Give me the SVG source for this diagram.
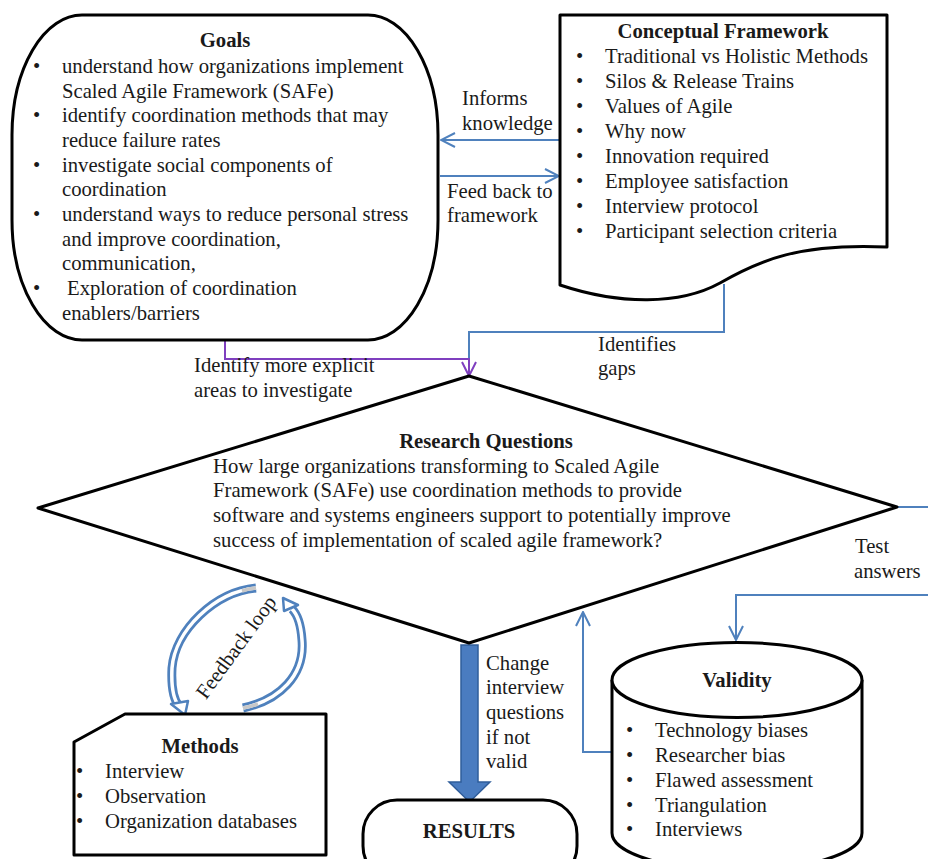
<svg xmlns="http://www.w3.org/2000/svg" width="928" height="859" viewBox="0 0 928 859">
<style>
  text { font-family: "Liberation Serif", "Times New Roman", serif; font-size: 20.7px; fill: #1a1a1a; }
  .b { font-weight: bold; }
  .m { text-anchor: middle; }
  .node { fill: #ffffff; stroke: #000000; stroke-width: 3; stroke-linejoin: round; }
  .blue { fill: none; stroke: #4f81bd; stroke-width: 2; }
  .purple { fill: none; stroke: #7f3fbf; stroke-width: 2; }
</style>
<defs>
  <marker id="ab" viewBox="0 0 16 16" refX="15" refY="8" markerWidth="16" markerHeight="16" markerUnits="userSpaceOnUse" orient="auto">
    <path d="M1,1 L15,8 L1,15" fill="none" stroke="#4f81bd" stroke-width="2"/>
  </marker>
  <marker id="ap" viewBox="0 0 16 16" refX="15" refY="8" markerWidth="16" markerHeight="16" markerUnits="userSpaceOnUse" orient="auto">
    <path d="M1,1 L15,8 L1,15" fill="none" stroke="#7f3fbf" stroke-width="2"/>
  </marker>
</defs>
<rect width="928" height="859" fill="#ffffff"/>

<g id="connectors">
  <path class="blue" d="M560,140 H441" marker-end="url(#ab)"/>
  <path class="blue" d="M440,176 H559" marker-end="url(#ab)"/>
  <path class="blue" d="M724,284 V332 H469 V359"/>
  <path class="purple" d="M225,341 V359 H469 V376" marker-end="url(#ap)"/>
  <path class="blue" d="M897,507 H928"/>
  <path class="blue" d="M928,595 H736 V640" marker-end="url(#ab)"/>
  <path class="blue" d="M612,752 H583 V612" marker-end="url(#ab)"/>
  <polygon points="461,645 478,645 478,782 490,782 469.5,802 449,782 461,782" fill="#4a7cc0" stroke="#2f5d9a" stroke-width="1.5"/>
  <g id="feedback-loop">
    <path d="M256,588 C215,592 175,630 172,668 C171,688 174,700 179,706" fill="none" stroke="#4f81bd" stroke-width="9"/>
    <path d="M256,588 C215,592 175,630 172,668 C171,688 174,700 179,706" fill="none" stroke="#ffffff" stroke-width="3.5"/>
    <path d="M256,588 C250,588.5 246,589.5 242,591" fill="none" stroke="#c8c8c8" stroke-width="3.5"/>
    <polygon points="171,704 188,701 185,715" fill="#ffffff" stroke="#4f81bd" stroke-width="2.5" stroke-linejoin="round"/>
    <path d="M243,708 C280,700 305,675 302,640 C301,625 297,614 292,609" fill="none" stroke="#4f81bd" stroke-width="9"/>
    <path d="M243,708 C280,700 305,675 302,640 C301,625 297,614 292,609" fill="none" stroke="#ffffff" stroke-width="3.5"/>
    <path d="M243,708 C249,707 254,705.5 258,704" fill="none" stroke="#c8c8c8" stroke-width="3.5"/>
    <polygon points="284,611 298,605 283,598" fill="#ffffff" stroke="#4f81bd" stroke-width="2.5" stroke-linejoin="round"/>
    <text class="m" transform="translate(236,647) rotate(-54)" x="0" y="7">Feedback loop</text>
  </g>
  <text x="462" y="105">Informs</text>
  <text x="462" y="130">knowledge</text>
  <text x="447" y="198">Feed back to</text>
  <text x="447" y="222">framework</text>
  <text x="194" y="372">Identify more explicit</text>
  <text x="194" y="397">areas to investigate</text>
  <text x="598" y="351">Identifies</text>
  <text x="598" y="375">gaps</text>
  <text x="855" y="553">Test</text>
  <text x="854" y="578">answers</text>
  <text x="486" y="670">Change</text>
  <text x="486" y="694">interview</text>
  <text x="486" y="719">questions</text>
  <text x="486" y="744">if not</text>
  <text x="486" y="768">valid</text>
</g>

<g id="goals">
  <rect class="node" x="12" y="15" width="426" height="325" rx="70" ry="120"/>
  <text class="b m" x="225" y="47">Goals</text>
  <text x="33" y="73">•</text>
  <text x="62" y="73">understand how organizations implement</text>
  <text x="62" y="98">Scaled Agile Framework (SAFe)</text>
  <text x="33" y="122">•</text>
  <text x="62" y="122">identify coordination methods that may</text>
  <text x="62" y="147">reduce failure rates</text>
  <text x="33" y="172">•</text>
  <text x="62" y="172">investigate social components of</text>
  <text x="62" y="196">coordination</text>
  <text x="33" y="221">•</text>
  <text x="62" y="221">understand ways to reduce personal stress</text>
  <text x="62" y="246">and improve coordination,</text>
  <text x="62" y="270">communication,</text>
  <text x="33" y="295">•</text>
  <text x="67" y="295">Exploration of coordination</text>
  <text x="62" y="320">enablers/barriers</text>
</g>

<g id="conceptual-framework">
  <path class="node" d="M560,15 H887 V247 C800,243 760,260 720,283 C680,305 620,305 560,285 Z"/>
  <text class="b m" x="723" y="38">Conceptual Framework</text>
  <text x="576" y="63">•</text><text x="605" y="63">Traditional vs Holistic Methods</text>
  <text x="576" y="88">•</text><text x="605" y="88">Silos &amp; Release Trains</text>
  <text x="576" y="113">•</text><text x="605" y="113">Values of Agile</text>
  <text x="576" y="138">•</text><text x="605" y="138">Why now</text>
  <text x="576" y="163">•</text><text x="605" y="163">Innovation required</text>
  <text x="576" y="188">•</text><text x="605" y="188">Employee satisfaction</text>
  <text x="576" y="213">•</text><text x="605" y="213">Interview protocol</text>
  <text x="576" y="238">•</text><text x="605" y="238">Participant selection criteria</text>
</g>

<g id="research-questions">
  <polygon class="node" points="469,376 897,507 469,643 38,508"/>
  <text class="b m" x="486" y="448">Research Questions</text>
  <text x="213" y="473">How large organizations transforming to Scaled Agile</text>
  <text x="213" y="497">Framework (SAFe) use coordination methods to provide</text>
  <text x="213" y="522">software and systems engineers support to potentially improve</text>
  <text x="213" y="547">success of implementation of scaled agile framework?</text>
</g>

<g id="validity">
  <path class="node" d="M612,680 V833 A125,37.5 0 0 0 862,833 V680 A125,37.5 0 0 0 612,680 Z"/>
  <path class="node" fill="none" d="M612,680 A125,37.5 0 0 0 862,680"/>
  <text class="b m" x="737" y="687">Validity</text>
  <text x="626" y="737">•</text><text x="655" y="737">Technology biases</text>
  <text x="626" y="762">•</text><text x="655" y="762">Researcher bias</text>
  <text x="626" y="787">•</text><text x="655" y="787">Flawed assessment</text>
  <text x="626" y="812">•</text><text x="655" y="812">Triangulation</text>
  <text x="626" y="836">•</text><text x="655" y="836">Interviews</text>
</g>

<g id="methods">
  <polygon class="node" points="125,714 326,714 326,855 74,855 74,742"/>
  <text class="b m" x="200" y="753">Methods</text>
  <text x="76" y="778">•</text><text x="105" y="778">Interview</text>
  <text x="76" y="803">•</text><text x="105" y="803">Observation</text>
  <text x="76" y="828">•</text><text x="105" y="828">Organization databases</text>
</g>

<g id="results">
  <rect class="node" x="363" y="800" width="214" height="80" rx="34" ry="34"/>
  <text class="b m" x="469" y="838">RESULTS</text>
</g>
</svg>
